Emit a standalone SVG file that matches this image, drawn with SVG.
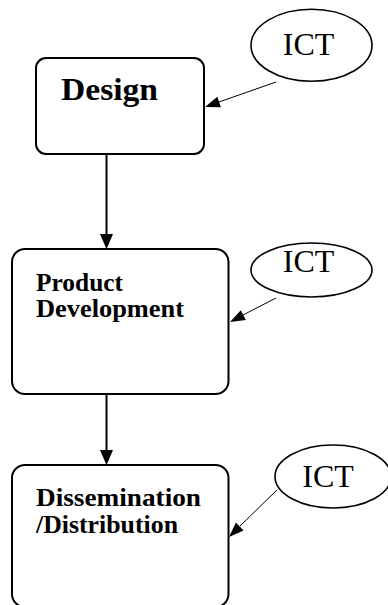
<svg xmlns="http://www.w3.org/2000/svg" width="388" height="605" viewBox="0 0 388 605">
<style>
.box{fill:#fff;stroke:#000;stroke-width:2}
.ell{fill:#fff;stroke:#000;stroke-width:1.6}
.ln{stroke:#000;fill:none}
.hd{fill:#000;stroke:none}
</style>
<rect width="388" height="605" fill="#fff"/>
<g id="connectors">
<line class="ln" x1="106.5" y1="154" x2="106.5" y2="235" stroke-width="2"/>
<polygon class="hd" points="100,234 113,234 106.5,249"/>
<line class="ln" x1="106.5" y1="394" x2="106.5" y2="451" stroke-width="2"/>
<polygon class="hd" points="100,450 113,450 106.5,465"/>
<line class="ln" x1="276" y1="82" x2="219" y2="102" stroke-width="1"/>
<polygon class="hd" points="205,107 220.9,107.2 217.3,96.8"/>
<line class="ln" x1="276" y1="298" x2="243" y2="315" stroke-width="1"/>
<polygon class="hd" points="230,322 245.8,320 240.8,310.2"/>
<line class="ln" x1="277" y1="490" x2="240" y2="526" stroke-width="1"/>
<polygon class="hd" points="229,537 243.6,530.4 235.9,522.6"/>
</g>
<g font-family="Liberation Serif, serif" font-weight="bold" fill="#000">
<g id="design">
<rect class="box" x="36" y="58" width="168" height="96" rx="10"/>
<text x="61" y="100" font-size="31" textLength="97" lengthAdjust="spacingAndGlyphs">Design</text>
</g>
<g id="product">
<rect class="box" x="12" y="249" width="216.5" height="145" rx="13"/>
<text x="36" y="291" font-size="25" textLength="87" lengthAdjust="spacingAndGlyphs">Product</text>
<text x="36" y="317" font-size="25" textLength="148" lengthAdjust="spacingAndGlyphs">Development</text>
</g>
<g id="dissemination">
<rect class="box" x="12" y="465" width="216.5" height="142" rx="13"/>
<text x="36" y="506" font-size="25" textLength="165" lengthAdjust="spacingAndGlyphs">Dissemination</text>
<text x="36" y="533" font-size="25" textLength="142" lengthAdjust="spacingAndGlyphs">/Distribution</text>
</g>
</g>
<g font-family="Liberation Serif, serif" font-size="32" fill="#000" text-anchor="middle">
<g id="ict1">
<ellipse class="ell" cx="311.5" cy="45.3" rx="60.5" ry="36"/>
<text x="308.5" y="55">ICT</text>
</g>
<g id="ict2">
<ellipse class="ell" cx="311.5" cy="270" rx="60.5" ry="27"/>
<text x="308.5" y="272">ICT</text>
</g>
<g id="ict3">
<ellipse class="ell" cx="333" cy="476.5" rx="58" ry="31.5"/>
<text x="328" y="487">ICT</text>
</g>
</g>
</svg>
